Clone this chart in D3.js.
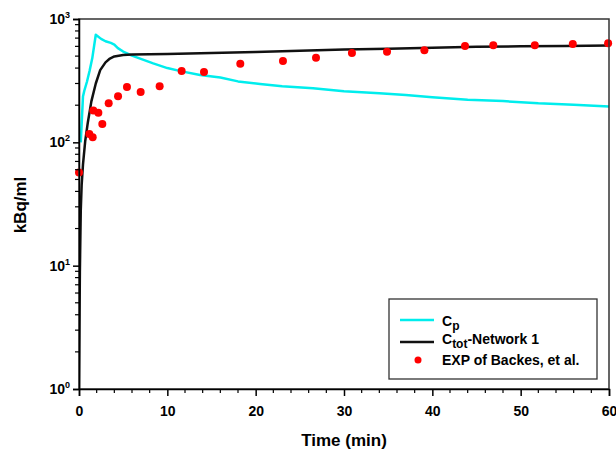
<!DOCTYPE html>
<html><head><meta charset="utf-8">
<script src="https://cdn.jsdelivr.net/npm/d3@7"></script>
<style>
body{margin:0;background:#fff;}
text{font-family:"Liberation Sans",Arial,sans-serif;font-weight:bold;fill:#000;}
</style></head>
<body><svg id="c" width="616" height="453"></svg>
<script>
// Cp curve
const cpTime = [0.2,0.45,0.6,0.9,1.2,1.5,1.9,2.5,3.0,3.6,4.0,4.4,5.0,6.0,7.0,8.4,10,11.5,13.7,16,18,20.5,23,26.5,30,34,37,40,44,48,52,56,60];
const cpVal  = [100,235,262,310,380,480,745,690,660,640,620,580,545,505,475,437,400,378,352,335,312,297,285,274,259,250,242,232,221,216,207,202,195];
// Ctot - Network 1 curve
const totTime = [0,0.05,0.1,0.2,0.3,0.45,0.7,1.0,1.4,1.9,2.4,3.0,3.5,4.0,5.0,6.0,8,10,15,20,25,30,35,40,45,50,55,60];
const totVal  = [1,3,9,28,45,66,102,145,215,300,385,445,478,497,510,515,518,520,530,540,552,565,575,585,595,600,605,610];
// Experimental points (Backes et al.)
const expTime = [0,1.17,1.55,1.62,2.19,2.64,3.36,4.42,5.43,6.98,9.13,11.62,14.15,18.26,23.09,26.83,30.9,34.87,39.1,43.7,46.9,51.6,55.9,59.9];
const expVal  = [57,117,110,181,174,141,207,236,281,256,285,379,372,434,457,486,530,543,557,604,612,612,627,635];
const xTicks = [0,10,20,30,40,50,60];
const yTicks = [1,10,100,1000];
const legendLabels = [["C","p",""],["C","tot","-Network 1"],["EXP of Backes, et al.","",""]];

const svg = d3.select("#c");
const L=79,R=609,T=19,B=389;
const x = d3.scaleLinear().domain([0,60]).range([L,R]);
const y = d3.scaleLog().domain([1,1000]).range([B,T]);

svg.append("defs").append("clipPath").attr("id","clp").append("rect")
  .attr("x",L).attr("y",T).attr("width",R-L).attr("height",B-T);

const line = d3.line().x(d=>x(d[0])).y(d=>y(d[1]));
const g = svg.append("g").attr("clip-path","url(#clp)");
g.append("path").datum(cpTime.map((t,i)=>[t,cpVal[i]]))
  .attr("d",line).attr("fill","none").attr("stroke","#00eded").attr("stroke-width",2.5).attr("stroke-linejoin","round");
g.append("path").datum(totTime.map((t,i)=>[t,totVal[i]]))
  .attr("d",line).attr("fill","none").attr("stroke","#111").attr("stroke-width",2.5).attr("stroke-linejoin","round");
svg.append("g").selectAll("circle").data(expTime.map((t,i)=>[t,expVal[i]])).join("circle")
  .attr("cx",d=>x(d[0])).attr("cy",d=>y(d[1])).attr("r",4).attr("fill","#f00");

// frame
svg.append("rect").attr("x",L).attr("y",T).attr("width",R-L).attr("height",B-T)
  .attr("fill","none").attr("stroke","#333").attr("stroke-width",1.5);

// x axis
const xAxis = d3.axisBottom(x).tickValues(xTicks).tickSize(7).tickPadding(10).tickFormat(d3.format("d"));
const gx = svg.append("g").attr("transform",`translate(0,${B})`).call(xAxis);
gx.select(".domain").attr("stroke","#000").attr("stroke-width",1.5);
gx.selectAll(".tick line").attr("stroke","#000").attr("stroke-width",1.5);
gx.selectAll(".tick text").style("font-size","14px").style("font-family","Liberation Sans").style("font-weight","bold");
const minorX = d3.range(0,61,2).filter(v=>v%10!==0);
gx.selectAll(".mx").data(minorX).join("line").attr("x1",d=>x(d)).attr("x2",d=>x(d)).attr("y1",0).attr("y2",4).attr("stroke","#000").attr("stroke-width",1.2);

// y axis
const yAxis = d3.axisLeft(y).tickValues(yTicks).tickSize(6).tickFormat("");
const gy = svg.append("g").attr("transform",`translate(${L},0)`).call(yAxis);
gy.select(".domain").attr("stroke","#000").attr("stroke-width",1.5);
gy.selectAll(".tick line").attr("stroke","#000").attr("stroke-width",1.5);
const minorY=[];
[1,10,100].forEach(b=>{for(let k=2;k<=9;k++)minorY.push(b*k);});
gy.selectAll(".my").data(minorY).join("line").attr("x1",-4).attr("x2",0).attr("y1",d=>y(d)).attr("y2",d=>y(d)).attr("stroke","#000").attr("stroke-width",1.2);
yTicks.forEach(v=>{
  const t = svg.append("text").attr("x",L-9).attr("y",y(v)+5).attr("text-anchor","end").style("font-size","14px");
  t.append("tspan").text("10");
  t.append("tspan").attr("dy",-6).style("font-size","9px").text(Math.round(Math.log10(v)));
});

// axis titles
svg.append("text").attr("x",x(30)).attr("y",446).attr("text-anchor","middle").style("font-size","17px").text("Time (min)");
svg.append("text").attr("transform","translate(26,205) rotate(-90)").attr("text-anchor","middle").style("font-size","17px").text("kBq/ml");

// legend
svg.append("rect").attr("x",389).attr("y",299).attr("width",208).attr("height",80).attr("fill","#fff").attr("stroke","#333").attr("stroke-width",1.3);
svg.append("line").attr("x1",400).attr("x2",434).attr("y1",320).attr("y2",320).attr("stroke","#00eded").attr("stroke-width",2.5);
svg.append("line").attr("x1",400).attr("x2",434).attr("y1",342).attr("y2",342).attr("stroke","#111").attr("stroke-width",2.5);
svg.append("circle").attr("cx",418).attr("cy",360).attr("r",3.5).attr("fill","#f00");
const ly=[326,344,365];
legendLabels.forEach((lab,i)=>{
  const t=svg.append("text").attr("x",442).attr("y",ly[i]).style("font-size","14px");
  t.append("tspan").text(lab[0]);
  if(lab[1]){ t.append("tspan").attr("dy",4).style("font-size","12px").text(lab[1]);
    if(lab[2]) t.append("tspan").attr("dy",-4).text(lab[2]); }
});
</script></body></html>
